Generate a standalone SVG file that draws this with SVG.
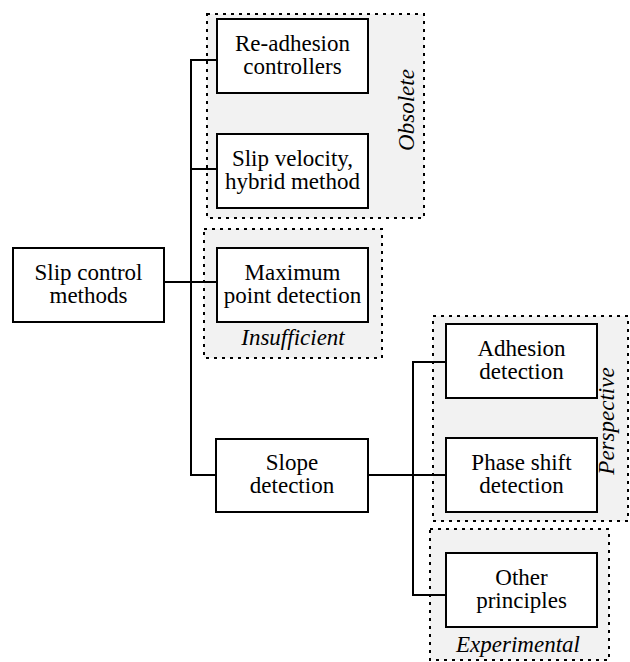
<svg xmlns="http://www.w3.org/2000/svg" width="630" height="662" viewBox="0 0 630 662">
<style>
.region{fill:#f2f2f2;stroke:#000;stroke-width:2;stroke-dasharray:3,5}
.box{fill:#fff;stroke:#000;stroke-width:2}
.conn{fill:none;stroke:#000;stroke-width:2}
.t{font-family:"Liberation Serif","DejaVu Serif",serif;font-size:23px;fill:#000;text-anchor:middle}
.lbl{font-style:italic}
</style>
<rect width="630" height="662" fill="#fff"/>
<g id="regions">
<g id="region-obsolete"><rect class="region" x="207" y="14" width="217" height="204"/><text class="t lbl" transform="translate(414,110) rotate(-90)">Obsolete</text></g>
<g id="region-insufficient"><rect class="region" x="204" y="229" width="178" height="129"/><text class="t lbl" x="293" y="345">Insufficient</text></g>
<g id="region-perspective"><rect class="region" x="433" y="316" width="195" height="205"/><text class="t lbl" transform="translate(614,421) rotate(-90)">Perspective</text></g>
<g id="region-experimental"><rect class="region" x="430" y="529" width="179" height="131"/><text class="t lbl" x="518" y="652">Experimental</text></g>
</g>
<g id="connectors">
<path class="conn" d="M164,282H217"/>
<path class="conn" d="M217,60H191V475H216"/>
<path class="conn" d="M191,169H217"/>
<path class="conn" d="M368,475H446"/>
<path class="conn" d="M446,362H413V595H446"/>
</g>
<g id="node-slip"><rect class="box" x="13" y="248" width="151" height="74"/><text class="t" x="88.5" y="280">Slip control</text><text class="t" x="88.5" y="303">methods</text></g>
<g id="node-readhesion"><rect class="box" x="217" y="19" width="151" height="74"/><text class="t" x="292.5" y="51">Re-adhesion</text><text class="t" x="292.5" y="74">controllers</text></g>
<g id="node-slipvel"><rect class="box" x="217" y="134" width="151" height="74"/><text class="t" x="292.5" y="166">Slip velocity,</text><text class="t" x="292.5" y="189">hybrid method</text></g>
<g id="node-maximum"><rect class="box" x="217" y="248" width="151" height="74"/><text class="t" x="292.5" y="280">Maximum</text><text class="t" x="292.5" y="303">point detection</text></g>
<g id="node-slope"><rect class="box" x="216" y="439" width="152" height="73"/><text class="t" x="292" y="470">Slope</text><text class="t" x="292" y="493">detection</text></g>
<g id="node-adhesion"><rect class="box" x="446" y="324" width="151" height="74"/><text class="t" x="521.5" y="356">Adhesion</text><text class="t" x="521.5" y="379">detection</text></g>
<g id="node-phase"><rect class="box" x="446" y="438" width="151" height="74"/><text class="t" x="521.5" y="470">Phase shift</text><text class="t" x="521.5" y="493">detection</text></g>
<g id="node-other"><rect class="box" x="446" y="553" width="151" height="74"/><text class="t" x="521.5" y="585">Other</text><text class="t" x="521.5" y="608">principles</text></g>
</svg>
